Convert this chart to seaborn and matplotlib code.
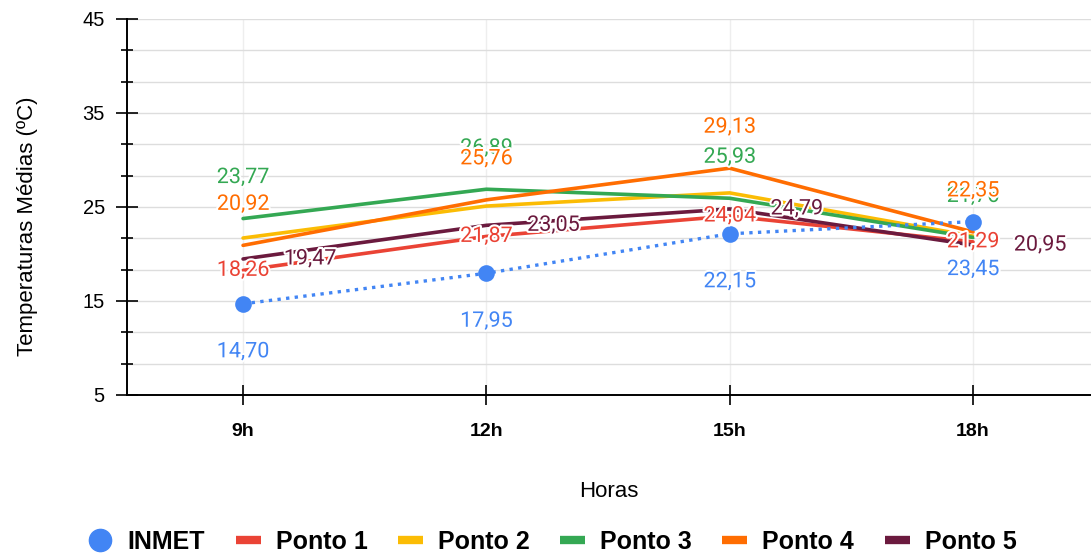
import numpy as np
import pandas as pd
import seaborn as sns
import matplotlib.pyplot as plt
import matplotlib.patheffects as pe
from matplotlib.lines import Line2D
from matplotlib.ticker import FixedLocator

# dados
horas = ['9h', '12h', '15h', '18h']
inmet = [14.70, 17.95, 22.15, 23.45]
ponto1 = [18.26, 21.87, 24.04, 21.29]
ponto2 = [21.7, 25.1, 26.5, 21.9]
ponto3 = [23.77, 26.89, 25.93, 21.76]
ponto4 = [20.92, 25.76, 29.13, 22.35]
ponto5 = [19.47, 23.05, 24.79, 20.95]

sns.set_style("white")
plt.rcParams['font.family'] = ['Liberation Sans', 'DejaVu Sans']
plt.rcParams['text.color'] = 'black'
plt.rcParams['axes.labelcolor'] = 'black'
plt.rcParams['xtick.color'] = 'black'
plt.rcParams['ytick.color'] = 'black'

cores = {
    'INMET': '#4285F4',
    'Ponto 1': '#EA4335',
    'Ponto 2': '#FBBC04',
    'Ponto 3': '#34A853',
    'Ponto 4': '#FF6D01',
    'Ponto 5': '#6B1A3E',
}
series = {'Ponto 1': ponto1, 'Ponto 2': ponto2, 'Ponto 3': ponto3,
          'Ponto 4': ponto4, 'Ponto 5': ponto5}

x = np.arange(len(horas))
fig = plt.figure(figsize=(10.91, 5.57), dpi=100)
ax = fig.add_axes([127 / 1091, 1 - 395 / 557, (1091 - 127) / 1091, 376 / 557])

for nome, vals in series.items():
    sns.lineplot(x=x, y=vals, ax=ax, color=cores[nome], linewidth=2.6, zorder=3)
sns.lineplot(x=x, y=inmet, ax=ax, color=cores['INMET'], linewidth=2.4,
             linestyle=(0, (1, 1.6)), marker='o', markersize=12,
             markeredgewidth=0, zorder=4)

# rótulos de dados (deslocamento em pixels)
desloc = {'INMET': (0, -48), 'Ponto 1': (0, 0), 'Ponto 3': (0, 41),
          'Ponto 4': (0, 41), 'Ponto 5': (67, 0)}
todas = dict(series, INMET=inmet)
halo = [pe.withStroke(linewidth=3, foreground='white')]
for nome, (dx, dy) in desloc.items():
    for xi, v in zip(x, todas[nome]):
        ax.annotate(f"{v:.2f}".replace('.', ','), (xi, v), xytext=(dx, dy),
                    textcoords='offset pixels', ha='center', va='center',
                    color=cores[nome], fontsize=15.5, family='Roboto',
                    path_effects=halo, zorder=6)

ax.set_xlim(-0.477, 3.485)
ax.set_ylim(5, 45)
ax.set_xticks(x)
ax.set_xticklabels(horas, fontweight='bold', fontsize=14)
ax.yaxis.set_major_locator(FixedLocator([5, 15, 25, 35, 45]))
ax.yaxis.set_minor_locator(FixedLocator([5 + 10 / 3 * k for k in range(13)]))
ax.tick_params(axis='y', which='major', direction='inout', length=16,
               width=1.2, labelsize=14.5, pad=8, left=True)
ax.tick_params(axis='y', which='minor', direction='inout', length=9,
               width=1.2, left=True)
ax.tick_params(axis='x', direction='inout', length=15, width=1.2, pad=13,
               bottom=True)
ax.grid(True, axis='y', which='both', color='#dddddd', linewidth=1, zorder=0)
ax.grid(True, axis='x', color='#eeeeee', linewidth=1, zorder=0)
for s in ['top', 'right']:
    ax.spines[s].set_visible(False)
for s in ['left', 'bottom']:
    ax.spines[s].set_color('black')
    ax.spines[s].set_linewidth(1.4)

ax.set_ylabel('Temperaturas Médias (ºC)', fontsize=16)
ax.set_xlabel('Horas', fontsize=16)
ax.yaxis.set_label_coords(-0.0925, 0.45)
ax.xaxis.set_label_coords(0.5, -0.229)

handles = [Line2D([], [], marker='o', linestyle='', markersize=16,
                  color=cores['INMET'], label='INMET')]
for nome in series:
    handles.append(Line2D([0], [0], color=cores[nome], linewidth=6,
                          solid_capstyle='butt', label=nome))
fig.legend(handles=handles, loc='center', bbox_to_anchor=(0.506, 1 - 542 / 557),
           ncol=6, frameon=False, handlelength=1.0, handletextpad=0.6,
           columnspacing=1.22, prop={'weight': 'bold', 'size': 18})

fig.savefig('out.png', dpi=100)
